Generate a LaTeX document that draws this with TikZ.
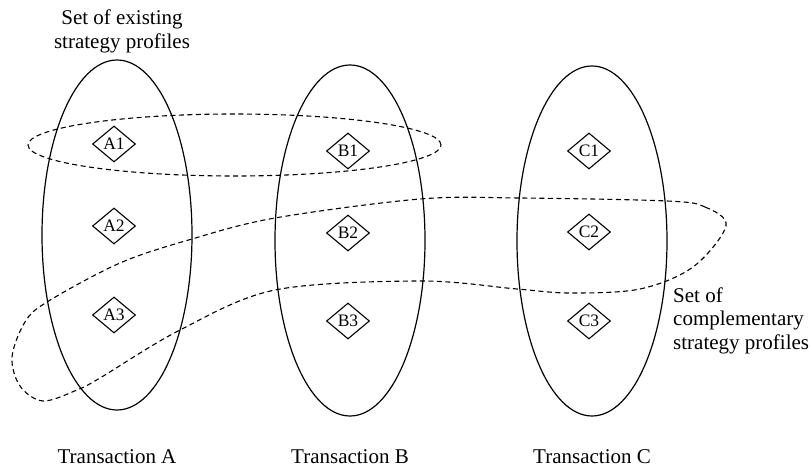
\documentclass[tikz,border=0pt]{standalone}
\usepackage{fontspec}
\setmainfont{Liberation Serif}
\usetikzlibrary{shapes.geometric}
\begin{document}
\begin{tikzpicture}[x=1pt,y=-1pt,
  setell/.style={draw, line width=1.2pt},
  dashset/.style={draw, line width=1.1pt, dash pattern=on 5pt off 3.5pt},
  profile/.style={diamond, draw, line width=1.1pt, inner sep=0pt, minimum width=43pt, minimum height=36pt, font=\fontsize{17.5}{17.5}\selectfont},
  lbl/.style={inner sep=0pt, font=\fontsize{21}{23.5}\selectfont}]
\useasboundingbox (0,0) rectangle (812,468);
% transaction sets
\node[setell, ellipse, minimum width=150pt, minimum height=350pt, inner sep=0pt] (TA) at (117,235) {};
\node[setell, ellipse, minimum width=150pt, minimum height=351pt, inner sep=0pt] (TB) at (350,240.5) {};
\node[setell, ellipse, minimum width=150pt, minimum height=350pt, inner sep=0pt] (TC) at (592,241) {};
% existing profiles set
\node[dashset, ellipse, minimum width=413pt, minimum height=62pt, inner sep=0pt] (EX) at (234.5,145) {};
% complementary profiles set
\draw[dashset] plot[smooth cycle, tension=0.55] coordinates {
  (726,226) (705,207) (667,201) (520,198) (420,199) (275,218) (192,239) (120,263)
  (47,302) (25,322) (12,357) (20,386) (43,401) (77,390) (100,378) (180,330) (275,290)
  (420,281) (517,289) (570,293) (640,289) (693,267)};
% profiles
\node[profile] (A1) at (114,144) {A1};
\node[profile] (A2) at (114,226) {A2};
\node[profile] (A3) at (114,315) {A3};
\node[profile] (B1) at (348,151) {B1};
\node[profile] (B2) at (348,233) {B2};
\node[profile] (B3) at (348,321) {B3};
\node[profile] (C1) at (589,151) {C1};
\node[profile] (C2) at (589,232) {C2};
\node[profile] (C3) at (589,321) {C3};
% labels
\node[lbl, align=center, anchor=base] (LEX) at (122,48.5) {Set of existing\\strategy profiles};
\node[lbl, align=left, anchor=base west] (LCO) at (673,349) {Set of\\complementary\\strategy profiles};
\node[lbl, anchor=base] (LA) at (117,463) {Transaction A};
\node[lbl, anchor=base] (LB) at (350,463) {Transaction B};
\node[lbl, anchor=base] (LC) at (592,463) {Transaction C};
\end{tikzpicture}
\end{document}
